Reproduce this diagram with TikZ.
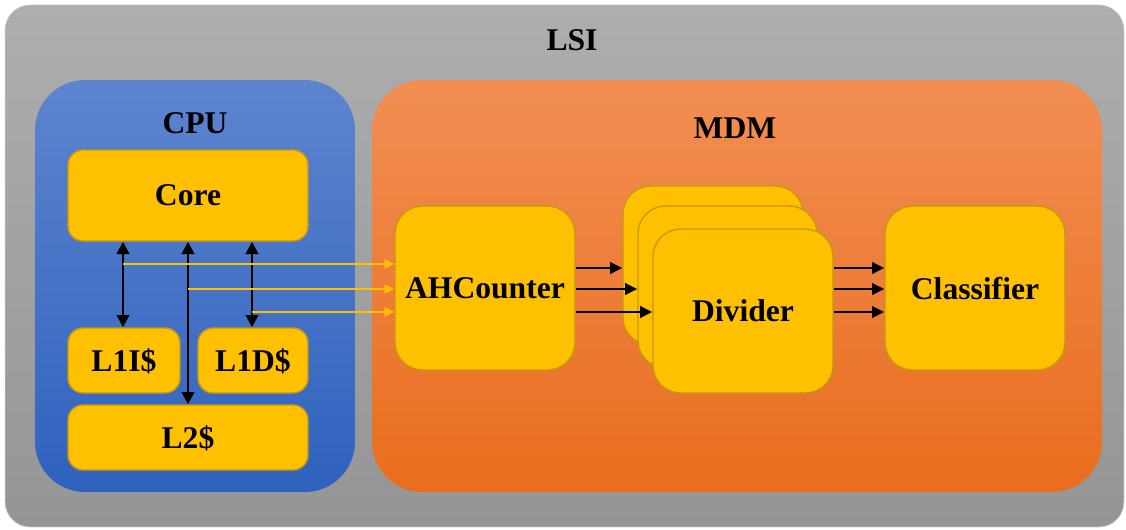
\documentclass[tikz,border=0pt]{standalone}
\usepackage{fontspec}
\setmainfont{Liberation Serif}
\usetikzlibrary{arrows.meta}

\definecolor{lsitop}{HTML}{AEAEAE}
\definecolor{lsibot}{HTML}{959595}
\definecolor{cputop}{HTML}{5D84CF}
\definecolor{cpubot}{HTML}{2F62BE}
\definecolor{mdmtop}{HTML}{F28E53}
\definecolor{mdmbot}{HTML}{E96D1D}
\definecolor{blockfill}{HTML}{FFC000}
\definecolor{blockline}{HTML}{C49A12}

\tikzset{
  lbl/.style={font=\bfseries\fontsize{18}{20}\selectfont},
  unit/.style={lbl, draw=blockline, line width=0.8pt, fill=blockfill, rounded corners=0.3cm,
    inner sep=0pt, text depth=-1.5pt},
  bigunit/.style={unit, rounded corners=0.55cm, minimum width=3.6cm, minimum height=3.28cm},
  bus/.style={{Triangle[length=7pt,width=7pt]}-{Triangle[length=7pt,width=7pt]}, line width=1.6pt},
  flow/.style={-{Triangle[length=7pt,width=6.5pt]}, line width=1.6pt},
  sig/.style={-{Triangle[length=5.5pt,width=5pt]}, line width=1.2pt, draw=blockfill}
}

\begin{document}
\begin{tikzpicture}[x=0.02cm, y=-0.02cm]
  \useasboundingbox (0,0) rectangle (1126,529);

  % Containers
  \node (lsi) [draw=lsitop!70!white, top color=lsitop, bottom color=lsibot, rounded corners=0.5cm,
    minimum width=22.38cm, minimum height=10.44cm] at (564.5,266) {};
  \node (lsitext) [lbl] at (572,40) {LSI};
  \node (cpu) [top color=cputop, bottom color=cpubot, rounded corners=1cm,
    minimum width=6.4cm, minimum height=8.24cm] at (195,286) {};
  \node (cputext) [lbl] at (195,123) {CPU};
  \node (mdm) [top color=mdmtop, bottom color=mdmbot, rounded corners=1cm,
    minimum width=14.6cm, minimum height=8.24cm] at (737,286) {};
  \node (mdmtext) [lbl] at (735,128) {MDM};

  % CPU blocks
  \node (core) [unit, minimum width=4.8cm, minimum height=1.82cm] at (188,195.5) {Core};
  \node (l1i) [unit, minimum width=2.24cm, minimum height=1.3cm] at (124,360.5) {L1I\$};
  \node (l1d) [unit, minimum width=2.2cm, minimum height=1.3cm] at (253,360.5) {L1D\$};
  \node (l2) [unit, minimum width=4.8cm, minimum height=1.3cm] at (188,437.5) {L2\$};

  % MDM blocks
  \node (ahc) [bigunit] at (485,288) {AHCounter};
  \node (diva) [bigunit, minimum height=3.18cm] at (713,265.5) {};
  \node (divb) [bigunit, minimum width=3.58cm, minimum height=3.24cm] at (727.5,287) {};
  \node (divc) [bigunit] at (743,311) {Divider};
  \node (cls) [bigunit] at (975,288) {Classifier};

  % Buses inside the CPU
  \draw[bus] (core.south -| 123,0) -- (l1i.north -| 123,0);
  \draw[bus] (core.south -| 252,0) -- (l1d.north -| 252,0);
  \draw[bus] (core.south) -- (l2.north);

  % Signals to the AHCounter
  \coordinate (tapi) at (123,264);
  \coordinate (tapl) at (188,289);
  \coordinate (tapd) at (252,312);
  \draw[sig] (tapi) -- (tapi -| ahc.west);
  \draw[sig] (tapl) -- (tapl -| ahc.west);
  \draw[sig] (tapd) -- (tapd -| ahc.west);

  % Data path
  \draw[flow] (ahc.east |- 0,268) -- (diva.west |- 0,268);
  \draw[flow] (ahc.east |- 0,289) -- (divb.west |- 0,289);
  \draw[flow] (ahc.east |- 0,312) -- (divc.west |- 0,312);
  \foreach \y in {268,289,312}
    \draw[flow] (divc.east |- 0,\y) -- (cls.west |- 0,\y);
\end{tikzpicture}
\end{document}
